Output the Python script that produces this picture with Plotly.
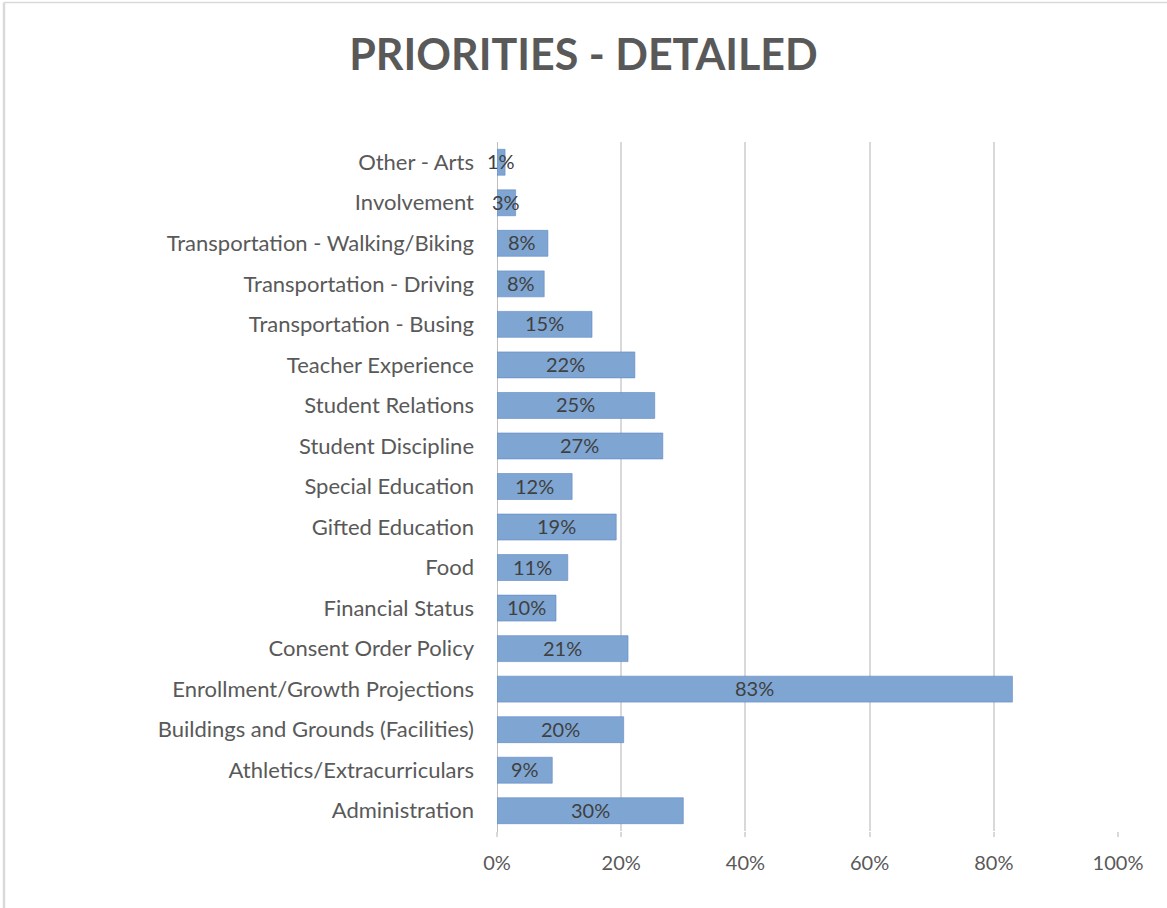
import plotly.graph_objects as go

categories = [
    "Administration",
    "Athletics/Extracurriculars",
    "Buildings and Grounds (Facilities)",
    "Enrollment/Growth Projections",
    "Consent Order Policy",
    "Financial Status",
    "Food",
    "Gifted Education",
    "Special Education",
    "Student Discipline",
    "Student Relations",
    "Teacher Experience",
    "Transportation - Busing",
    "Transportation - Driving",
    "Transportation - Walking/Biking",
    "Involvement",
    "Other - Arts",
]
values = [0.30, 0.089, 0.204, 0.83, 0.211, 0.095, 0.114, 0.192, 0.121, 0.267, 0.254,
          0.222, 0.153, 0.076, 0.082, 0.03, 0.013]
labels = ["30%", "9%", "20%", "83%", "21%", "10%", "11%", "19%", "12%", "27%", "25%",
          "22%", "15%", "8%", "8%", "3%", "1%"]
tick_vals = [0, 0.2, 0.4, 0.6, 0.8, 1.0]
tick_text = ["0%", "20%", "40%", "60%", "80%", "100%"]

FONT = "Lato"
W, H = 1167, 908
L, R, T, B = 497, 49, 142, 77
pw, ph = W - L - R, H - T - B

fig = go.Figure()
fig.add_trace(go.Bar(
    y=categories, x=values, orientation="h",
    marker=dict(color="#7FA6D3", line=dict(color="rgba(95,135,195,0.6)", width=1)),
    hoverinfo="skip",
))

for cat, v, lab in zip(categories, values, labels):
    fig.add_annotation(x=v / 2, y=cat, xref="x", yref="y", text=lab, showarrow=False,
                       xanchor="center", yanchor="middle", yshift=1,
                       font=dict(family=FONT, size=20, color="#404040"))

# outer frame (left and top edges visible)
lx = (4 - L) / pw
ty = 1 + (T - 2.5) / ph
fig.add_shape(type="line", xref="paper", yref="paper", x0=lx, x1=2, y0=ty, y1=ty,
              line=dict(color="#d9d9d9", width=1.5))
fig.add_shape(type="line", xref="paper", yref="paper", x0=lx, x1=lx, y0=ty, y1=-1,
              line=dict(color="#d9d9d9", width=2.5))
# value axis baseline at 0, drawn below bars so labels stay readable
fig.add_shape(type="line", xref="x", yref="paper", x0=0, x1=0, y0=-5 / ph, y1=1,
              layer="below", line=dict(color="#bfbfbf", width=2))

fig.update_layout(
    width=W, height=H,
    margin=dict(l=L, r=R, t=T, b=B),
    paper_bgcolor="white", plot_bgcolor="white",
    showlegend=False,
    bargap=0.36,
    title=dict(text="<b>PRIORITIES - DETAILED</b>", x=0.5, xanchor="center",
               y=1 - 55 / H, yanchor="middle",
               font=dict(family=FONT, size=43, color="#595959")),
    font=dict(family=FONT, color="#595959"),
    xaxis=dict(range=[0, 1.0], tickvals=tick_vals, ticktext=tick_text,
               showgrid=True, gridcolor="#d9d9d9", gridwidth=1.5,
               zeroline=False, ticks="outside", ticklen=5, tickcolor="#d9d9d9",
               tickwidth=1.5, ticklabelstandoff=9,
               tickfont=dict(family=FONT, size=20, color="#595959"),
               showline=False, fixedrange=True),
    yaxis=dict(categoryorder="array", categoryarray=categories,
               range=[-0.5, len(categories) - 0.5],
               showgrid=False, zeroline=False, ticks="", ticklabelstandoff=22,
               showline=False,
               tickfont=dict(family=FONT, size=22, color="#595959"),
               fixedrange=True),
)

fig.write_html("out.html", config={"displayModeBar": False},
               post_script="document.body.style.margin='0';")
